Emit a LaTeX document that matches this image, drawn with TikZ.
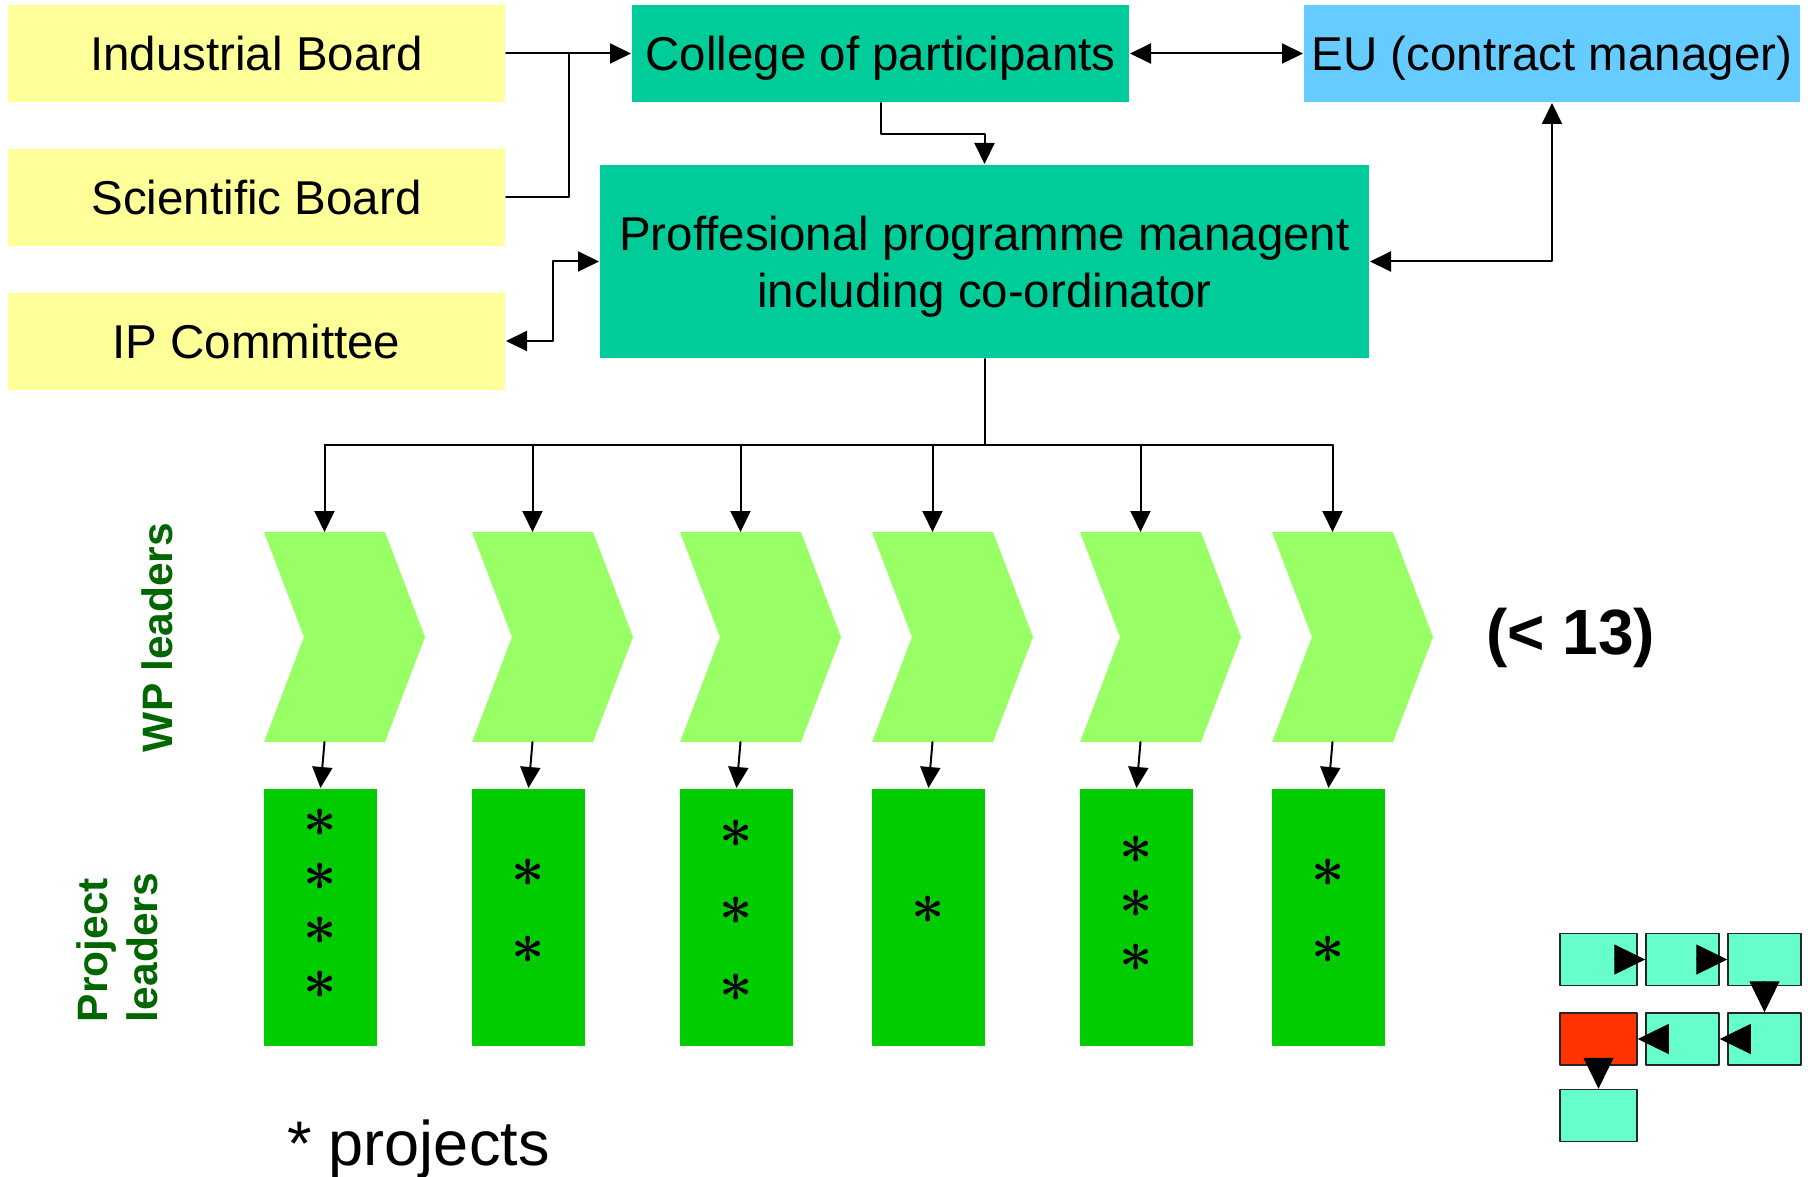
\documentclass[tikz,border=0pt]{standalone}
\usepackage{graphicx}
\usepackage{fontspec}
\setmainfont{Liberation Sans}
\usetikzlibrary{arrows.meta,calc}

\definecolor{boardyellow}{HTML}{FFFF99}
\definecolor{collgreen}{HTML}{00CC99}
\definecolor{eublue}{HTML}{66CCFF}
\definecolor{wpgreen}{HTML}{99FF66}
\definecolor{projgreen}{HTML}{00CC00}
\definecolor{labelgreen}{HTML}{006600}
\definecolor{tileteal}{HTML}{66FFCC}
\definecolor{tilered}{HTML}{FF3300}

\begin{document}
\begin{tikzpicture}[x=1pt,y=-1pt,line width=2pt,line cap=round,line join=round,
    >={Triangle[length=21pt,width=20pt]},
    box/.style={inner sep=0pt,minimum height=97pt,text height=34pt,text depth=0pt,
      font=\fontsize{47.5}{57}\selectfont},
    board/.style={box,fill=boardyellow,minimum width=497pt},
    wp/.style={inner sep=0pt,minimum width=119pt,minimum height=208pt},
    proj/.style={fill=projgreen,inner sep=0pt,minimum width=113pt,minimum height=257pt},
    star/.style={inner sep=0pt},
    side/.style={rotate=90,inner sep=0pt,text=labelgreen,
      font=\bfseries\fontsize{42.5}{50}\selectfont},
    tile/.style={draw=black!85,line width=1.5pt,fill=tileteal,inner sep=0pt,
      minimum width=73pt,minimum height=52pt},
    tilearrow/.style={-{Triangle[length=31pt,width=30pt]},line width=1pt}]
  % Positions are given in points with y growing downwards,
  % so the numbers read like pixel positions on the slide.
  \useasboundingbox (0,0) rectangle (1808,1177);

  % left column: the three boards
  \node[board] (ind) at (256.5,53.5)  {Industrial Board};
  \node[board] (sci) at (256.5,197.5) {Scientific Board};
  \node[board] (ip)  at (256.5,341)   {IP Committee};

  % top row and the programme management
  \node[box,fill=collgreen,minimum width=497pt] (col) at (880.5,53.5) {College of participants};
  \node[box,fill=eublue,minimum width=496pt] (eu) at (1552,53.5) {EU (contract manager)};
  \node[fill=collgreen,inner sep=0pt,minimum width=769pt,minimum height=193pt,align=center,
    text depth=-1pt,font=\fontsize{47.5}{57}\selectfont] (ppm) at (984.5,261.5)
    {Proffesional programme managent\\including co-ordinator};

  % connectors in the upper part
  \coordinate (jn) at ($(ind.east)!0.5!(col.west)$);
  \draw[->] (ind.east) -- (col.west);
  \draw (sci.east) -| (jn);
  \draw[<->] (col.east) -- (eu.west);
  \draw[->] (col.south) -- ++(0,31) -| (ppm.north);
  \draw[<->] (ip.east) -- ++(47,0) |- (ppm.west);
  \draw[<->] (ppm.east) -| (eu.south);

  % a chevron round an empty node, #1 = name of the node
  \def\chevron#1{
    \fill[wpgreen] (#1.north west) -- (#1.north east) -- ([xshift=40pt]#1.east)
      -- (#1.south east) -- (#1.south west) -- ([xshift=40pt]#1.west) -- cycle;
  }

  % work packages and their projects
  % \i = column, \x = left edge, \n = number of projects,
  % \g = gap between the stars, \c = middle of the stars
  \coordinate (bus) at (984.5,445);
  \foreach \i/\x/\n/\g/\c in {1/265/4/54/904, 2/473/2/77/911.5, 3/681/3/77/911,
                             4/873/1/0/910, 5/1081/3/54/904, 6/1273/2/77/911.5} {
    \node[wp] (wp\i) at (\x+59.5,637) {};
    \chevron{wp\i}
    \node[proj] (pl\i) at (\x+55.5,917.5) {};
    \foreach \k in {1,...,\n}
      \node[star] (st\i\k) at ({\x+55.5},{\c+(\k-(\n+1)/2)*\g})
        {\scalebox{5.8}{\boldmath$\ast$}};
    \draw[->] (wp\i.north |- bus) -- (wp\i.north);
    \draw[->] (wp\i.south) -- (pl\i.north);
  }
  \draw (ppm.south) -- (bus);
  \draw (wp1.north |- bus) -- (wp6.north |- bus);

  % texts round the work packages
  \node[side,anchor=base west] (wplab) at (172,753) {WP leaders};
  \node[side,anchor=north west,align=left] (pllab) at (76,1023) {Project\\leaders};
  \node[inner sep=0pt,anchor=base west,font=\bfseries\fontsize{64}{64}\selectfont]
    (count) at (1485,654) {(< 13)};
  \node[inner sep=0pt,anchor=base west,font=\fontsize{63}{63}\selectfont]
    (note) at (286,1165) {* projects};

  % small route sketch, bottom right
  \node[tile,minimum width=77pt] (t1) at (1598.5,959.5) {};
  \node[tile] (t2) at (1682.5,959.5) {};
  \node[tile] (t3) at (1764.5,959.5) {};
  \node[tile] (t4) at (1764.5,1039) {};
  \node[tile] (t5) at (1682.5,1039) {};
  \node[tile,minimum width=77pt,fill=tilered] (t6) at (1598.5,1039) {};
  \node[tile,minimum width=77pt] (t7) at (1598.5,1115.5) {};
  \draw[tilearrow] (t1.east) -- (t2.west);
  \draw[tilearrow] (t2.east) -- (t3.west);
  \draw[tilearrow] (t3.south) -- (t4.north);
  \draw[tilearrow] (t4.west) -- (t5.east);
  \draw[tilearrow] (t5.west) -- (t6.east);
  \draw[tilearrow] (t6.south) -- (t7.north);
\end{tikzpicture}
\end{document}
